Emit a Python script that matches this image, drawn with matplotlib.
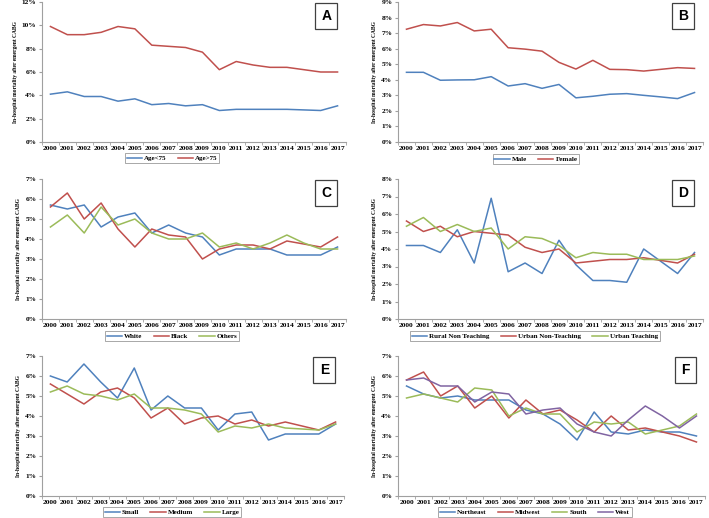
import numpy as np
import matplotlib
matplotlib.use("Agg")
import matplotlib.pyplot as plt
from matplotlib.ticker import FuncFormatter, FixedLocator

years = [str(y) for y in range(2000, 2018)]

# A: age
age_lt75 = [4.1, 4.3, 3.9, 3.9, 3.5, 3.7, 3.2, 3.3, 3.1, 3.2, 2.7, 2.8, 2.8, 2.8, 2.8, 2.75, 2.7, 3.1]
age_ge75 = [9.9, 9.2, 9.2, 9.4, 9.9, 9.7, 8.3, 8.2, 8.1, 7.7, 6.2, 6.9, 6.6, 6.4, 6.4, 6.2, 6.0, 6.0]

# B: sex
male = [4.48, 4.48, 3.97, 3.99, 4.0, 4.2, 3.6, 3.75, 3.45, 3.7, 2.84, 2.94, 3.07, 3.11, 3.0, 2.9, 2.79, 3.18]
female = [7.25, 7.55, 7.46, 7.68, 7.14, 7.25, 6.06, 5.97, 5.84, 5.12, 4.69, 5.25, 4.67, 4.65, 4.56, 4.67, 4.78, 4.73]

# C: race
white = [5.7, 5.5, 5.7, 4.6, 5.1, 5.3, 4.3, 4.7, 4.3, 4.1, 3.2, 3.5, 3.5, 3.5, 3.2, 3.2, 3.2, 3.6]
black = [5.6, 6.3, 5.0, 5.8, 4.5, 3.6, 4.5, 4.2, 4.1, 3.0, 3.5, 3.7, 3.7, 3.5, 3.9, 3.75, 3.6, 4.1]
others = [4.6, 5.2, 4.3, 5.6, 4.7, 5.0, 4.3, 4.0, 4.0, 4.3, 3.6, 3.8, 3.5, 3.8, 4.2, 3.8, 3.5, 3.5]

# D: hospital teaching status
rural_nt = [4.2, 4.2, 3.8, 5.1, 3.2, 6.9, 2.7, 3.2, 2.6, 4.5, 3.1, 2.2, 2.2, 2.1, 4.0, 3.3, 2.6, 3.8]
urban_nt = [5.6, 5.0, 5.3, 4.7, 5.0, 4.9, 4.8, 4.1, 3.8, 4.0, 3.2, 3.3, 3.4, 3.4, 3.5, 3.35, 3.2, 3.7]
urban_t = [5.3, 5.8, 5.0, 5.4, 5.0, 5.2, 4.0, 4.7, 4.6, 4.2, 3.5, 3.8, 3.7, 3.7, 3.4, 3.4, 3.4, 3.6]

# E: hospital size
small = [6.0, 5.7, 6.6, 5.7, 4.9, 6.4, 4.3, 5.0, 4.4, 4.4, 3.3, 4.1, 4.2, 2.8, 3.1, 3.1, 3.1, 3.6]
medium = [5.6, 5.1, 4.6, 5.2, 5.4, 4.9, 3.9, 4.4, 3.6, 3.9, 4.0, 3.6, 3.8, 3.5, 3.7, 3.5, 3.3, 3.7]
large = [5.2, 5.5, 5.1, 5.0, 4.8, 5.1, 4.4, 4.4, 4.3, 4.1, 3.2, 3.5, 3.4, 3.6, 3.4, 3.35, 3.3, 3.6]

# F: region
northeast = [5.5, 5.1, 4.9, 5.0, 4.8, 4.8, 4.8, 4.3, 4.1, 3.6, 2.8, 4.2, 3.2, 3.1, 3.3, 3.2, 3.2, 3.0]
midwest = [5.8, 6.2, 5.0, 5.5, 4.4, 5.0, 3.9, 4.8, 4.1, 4.3, 3.8, 3.2, 4.0, 3.3, 3.4, 3.2, 3.0, 2.7]
south = [4.9, 5.1, 4.9, 4.7, 5.4, 5.3, 4.0, 4.4, 4.1, 4.1, 3.2, 3.7, 3.6, 3.7, 3.1, 3.3, 3.5, 4.1]
west = [5.8, 5.9, 5.5, 5.5, 4.7, 5.2, 5.1, 4.1, 4.3, 4.4, 3.6, 3.2, 3.0, 3.8, 4.5, 4.0, 3.4, 4.0]

BLUE, RED, GREEN, PURPLE = "#4F81BD", "#C0504D", "#9BBB59", "#8064A2"
SERIF = "Liberation Serif"

W, H = 709, 518
fig = plt.figure(figsize=(W / 100, H / 100), dpi=100)

# (letter, series, labels, colors, ymax, left, right, top, bottom, legend centre x, legend y)
panels = [
    ("A", [age_lt75, age_ge75], ["Age<75", "Age>75"], [BLUE, RED], 12, 42, 346, 2, 142, 172, 158),
    ("B", [male, female], ["Male", "Female"], [BLUE, RED], 9, 398, 703, 2, 142, 536, 159),
    ("C", [white, black, others], ["White", "Black", "Others"], [BLUE, RED, GREEN], 7, 42, 346, 179, 319, 172, 336),
    ("D", [rural_nt, urban_nt, urban_t], ["Rural Non Teaching", "Urban Non-Teaching", "Urban Teaching"],
     [BLUE, RED, GREEN], 8, 398, 703, 179, 319, 535, 336),
    ("E", [small, medium, large], ["Small", "Medium", "Large"], [BLUE, RED, GREEN], 7, 42, 344, 356, 496, 172, 512),
    ("F", [northeast, midwest, south, west], ["Northeast", "Midwest", "South", "West"],
     [BLUE, RED, GREEN, PURPLE], 7, 398, 705, 356, 496, 535, 512),
]

x = np.arange(len(years))
for letter, series, labels, colors, ymax, l, r, t, b, lx, ly in panels:
    ax = fig.add_axes([l / W, 1 - b / H, (r - l) / W, (b - t) / H])
    for s, lab, c in zip(series, labels, colors):
        ax.plot(x, s, color=c, lw=1.1, label=lab)
    ax.set_xlim(-0.5, len(years) - 0.5)
    ax.set_ylim(0, ymax)
    ax.set_yticks(range(0, ymax + 1))
    if ymax == 12:
        ax.set_yticks(range(0, 13, 2))
    ax.yaxis.set_major_formatter(FuncFormatter(lambda v, p: f"{int(v)}%"))
    ax.set_xticks(x)
    ax.set_xticklabels(years)
    ax.xaxis.set_minor_locator(FixedLocator(np.arange(-0.5, len(years), 1)))
    ax.tick_params(axis="x", which="major", length=0, pad=3)
    ax.tick_params(axis="x", which="minor", length=2, color="#A0A0A0")
    ax.tick_params(axis="y", length=2, color="#A0A0A0", pad=2)
    for lab in ax.get_xticklabels() + ax.get_yticklabels():
        lab.set_fontfamily(SERIF)
        lab.set_fontweight("bold")
        lab.set_fontsize(5.3)
    for sp in ["top", "right"]:
        ax.spines[sp].set_visible(False)
    for sp in ["left", "bottom"]:
        ax.spines[sp].set_color("#A0A0A0")
        ax.spines[sp].set_linewidth(0.8)
    ax.set_ylabel("In-hospital mortality after emergent CABG", fontfamily=SERIF,
                  fontweight="bold", fontsize=4.0, labelpad=3)
    ax.text(0.935, 0.9, letter, transform=ax.transAxes, ha="center", va="center",
            fontsize=10, fontweight="bold", fontfamily="Liberation Sans",
            bbox=dict(boxstyle="square,pad=0.45", fc="white", ec="#404040", lw=0.9))
    leg = fig.legend(*ax.get_legend_handles_labels(), loc="center",
                     bbox_to_anchor=(lx / W, 1 - ly / H), ncol=len(labels),
                     prop=dict(family=SERIF, weight="bold", size=5.0),
                     frameon=True, fancybox=False, handlelength=2.2, handletextpad=0.3,
                     columnspacing=1.6, borderpad=0.25)
    leg.get_frame().set_edgecolor("#808080")
    leg.get_frame().set_linewidth(0.6)

fig.savefig("out.png", dpi=100)
